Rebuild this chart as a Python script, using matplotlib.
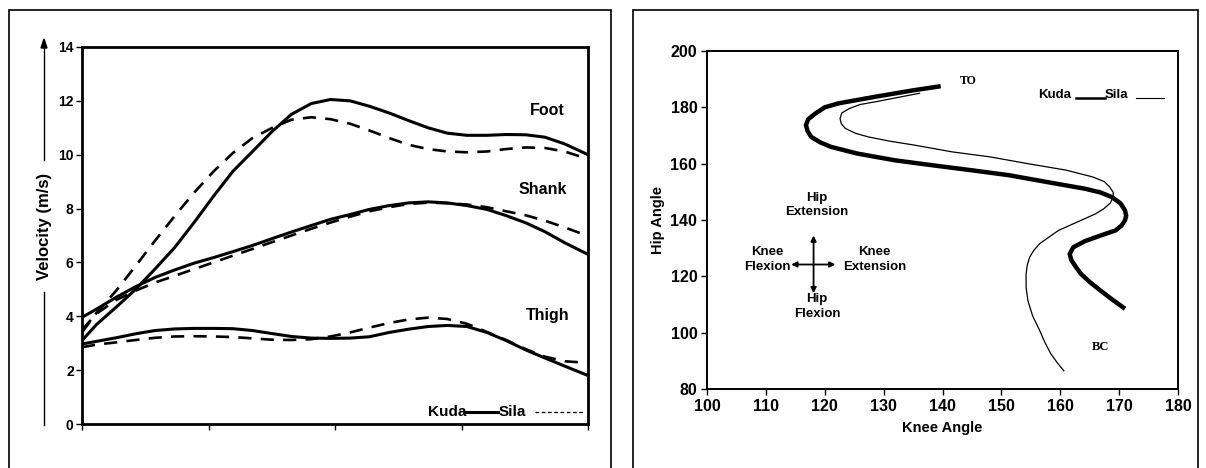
import matplotlib
matplotlib.use("Agg")
import matplotlib.pyplot as plt
from matplotlib.patches import Rectangle, Polygon
from matplotlib.lines import Line2D

# ---------------- Data: left panel (segment velocities, m/s) ----------------
time_pct = [0, 2.9, 6.7, 10.6, 14.4, 18.3, 22.1, 26.0, 29.8, 33.7, 37.5, 41.4, 45.3, 49.1,
            53.0, 56.8, 60.7, 64.5, 68.4, 72.2, 76.1, 80.0, 83.8, 87.7, 91.5, 95.4, 100]
foot_kuda = [3.1, 3.7, 4.33, 5.0, 5.75, 6.55, 7.47, 8.46, 9.38, 10.12, 10.85, 11.5, 11.9, 12.05,
             12.0, 11.8, 11.55, 11.27, 11.0, 10.8, 10.72, 10.72, 10.75, 10.74, 10.65, 10.4, 10.0]
foot_sila = [3.4, 4.14, 4.94, 5.87, 6.8, 7.72, 8.58, 9.38, 10.06, 10.62, 10.99, 11.3, 11.39, 11.32,
             11.15, 10.9, 10.62, 10.37, 10.21, 10.12, 10.09, 10.12, 10.21, 10.27, 10.25, 10.12, 9.84]
shank_kuda = [3.96, 4.27, 4.7, 5.1, 5.44, 5.72, 5.97, 6.18, 6.4, 6.63, 6.88, 7.13, 7.37, 7.6,
              7.78, 7.97, 8.11, 8.21, 8.25, 8.21, 8.11, 7.97, 7.74, 7.47, 7.14, 6.73, 6.3]
shank_sila = [3.5, 4.1, 4.6, 4.95, 5.25, 5.5, 5.75, 6.0, 6.25, 6.5, 6.75, 7.0, 7.25, 7.48,
              7.7, 7.9, 8.05, 8.17, 8.22, 8.2, 8.15, 8.05, 7.9, 7.75, 7.55, 7.3, 6.98]
thigh_kuda = [2.97, 3.07, 3.2, 3.35, 3.47, 3.53, 3.55, 3.55, 3.54, 3.47, 3.36, 3.25, 3.19, 3.18,
              3.19, 3.24, 3.4, 3.52, 3.62, 3.66, 3.62, 3.4, 3.1, 2.75, 2.45, 2.15, 1.8]
thigh_sila = [2.85, 2.95, 3.03, 3.12, 3.2, 3.25, 3.26, 3.25, 3.23, 3.18, 3.13, 3.12, 3.15, 3.25,
              3.4, 3.58, 3.75, 3.88, 3.95, 3.9, 3.72, 3.42, 3.12, 2.78, 2.5, 2.33, 2.27]

vel_yticks = [0, 2, 4, 6, 8, 10, 12, 14]
time_xticks = [0, 25, 50, 75, 100]

# ---------------- Data: right panel (hip vs knee angle) ----------------
kuda_knee = [139.7, 135.2, 128.7, 122.3, 120.0, 118.4, 117.2, 116.8, 117.1, 117.7, 119.2, 121.0,
             125.5, 131.9, 138.4, 144.8, 151.3, 157.7, 164.2, 166.8, 168.7, 170.2, 171.0, 171.2,
             171.0, 170.4, 169.4, 167.0, 164.2, 162.2, 161.6, 161.9, 162.6, 163.5, 165.0, 166.8,
             168.8, 171.0]
kuda_hip = [187.5, 186.1, 183.8, 181.4, 180.0, 177.8, 175.8, 173.7, 171.5, 169.5, 167.6, 166.0,
            163.6, 161.2, 159.4, 157.7, 155.9, 153.5, 151.1, 149.8, 148.2, 146.0, 143.4, 141.5,
            139.9, 138.0, 136.3, 134.6, 132.5, 130.3, 127.9, 125.7, 123.5, 120.9, 118.0, 115.0,
            111.8, 108.5]
sila_knee = [136.1, 128.7, 126.0, 124.2, 122.9, 122.6, 122.8, 123.5, 125.2, 127.4, 131.0, 135.2,
             141.6, 148.1, 154.5, 161.0, 165.5, 167.5, 168.4, 169.0, 169.0, 168.5, 167.4, 166.0,
             164.2, 159.7, 156.5, 155.5, 154.8, 154.4, 154.2, 154.2, 154.5, 155.3, 156.5, 157.4,
             158.4, 159.5, 160.6]
sila_hip = [185.0, 182.0, 181.0, 179.6, 178.0, 176.1, 174.2, 172.5, 170.8, 169.5, 168.0, 166.6,
            164.2, 162.4, 160.0, 157.7, 155.3, 153.6, 151.7, 149.8, 148.2, 146.0, 144.0, 142.2,
            140.5, 136.3, 131.6, 129.2, 126.8, 124.0, 120.9, 116.0, 111.4, 106.0, 100.8, 96.5,
            92.5, 89.3, 86.5]

knee_ticks = [100, 110, 120, 130, 140, 150, 160, 170, 180]
hip_ticks = [80, 100, 120, 140, 160, 180, 200]

FONT = ['Liberation Sans Narrow', 'Liberation Sans', 'DejaVu Sans']
SERIF = ['Liberation Serif', 'DejaVu Serif']
plt.rcParams['font.family'] = FONT
plt.rcParams['font.weight'] = 'bold'

W, H = 1206, 468
fig = plt.figure(figsize=(W / 100, H / 100), dpi=100)

def fx(px):
    return px / W

def fy(py):
    return 1 - py / H

# Panel borders
fig.add_artist(Rectangle((fx(9), fy(470)), fx(611 - 9), (470 - 10) / H,
                         transform=fig.transFigure, fill=False, lw=1.2, ec='black'))
fig.add_artist(Rectangle((fx(633), fy(470)), fx(1198 - 633), (470 - 10) / H,
                         transform=fig.transFigure, fill=False, lw=1.2, ec='black'))

# ---------------- Left axes ----------------
DASH = (0, (5, 3.5))
ax1 = fig.add_axes([fx(82), fy(424), fx(588 - 82), (424 - 47) / H])
ax1.plot(time_pct, foot_kuda, color='black', lw=2.2)
ax1.plot(time_pct, foot_sila, color='black', lw=1.9, ls=DASH)
ax1.plot(time_pct, shank_kuda, color='black', lw=2.2)
ax1.plot(time_pct, shank_sila, color='black', lw=1.9, ls=DASH)
ax1.plot(time_pct, thigh_kuda, color='black', lw=2.2)
ax1.plot(time_pct, thigh_sila, color='black', lw=1.9, ls=DASH)
ax1.set_xlim(0, 100)
ax1.set_ylim(0, 14)
ax1.set_yticks(vel_yticks)
ax1.set_xticks(time_xticks)
ax1.set_xticklabels([])
ax1.tick_params(axis='both', direction='out', length=4, width=1, pad=2)
for lab in ax1.get_yticklabels():
    lab.set_fontsize(10)
    lab.set_fontweight('bold')
for s in ax1.spines.values():
    s.set_linewidth(2.0)

ax1.text(92, 11.66, 'Foot', fontsize=11.5, fontweight='bold', ha='center', va='center')
ax1.text(91, 8.7, 'Shank', fontsize=11.5, fontweight='bold', ha='center', va='center')
ax1.text(92, 4.02, 'Thigh', fontsize=11.5, fontweight='bold', ha='center', va='center')

# left legend
ax1.text(68.3, 0.43, 'Kuda', fontsize=11, fontweight='bold', ha='left', va='center')
ax1.plot([75.8, 82.2], [0.45, 0.45], color='black', lw=2.2)
ax1.text(82.4, 0.43, 'Sila', fontsize=11, fontweight='bold', ha='left', va='center')
ax1.plot([89.5, 99.5], [0.45, 0.45], color='black', lw=0.9, ls=(0, (3, 2)))

# y label with arrow
fig.text(fx(44), fy(226), 'Velocity (m/s)', rotation=90, fontsize=12, fontweight='bold',
         ha='center', va='center')
fig.add_artist(Line2D([fx(44), fx(44)], [fy(425), fy(292)], transform=fig.transFigure,
                      color='black', lw=1.0))
fig.add_artist(Line2D([fx(44), fx(44)], [fy(160), fy(46)], transform=fig.transFigure,
                      color='black', lw=1.0))
fig.add_artist(Polygon([[fx(41), fy(48)], [fx(47), fy(48)], [fx(44), fy(39)]], closed=True,
                       transform=fig.transFigure, color='black'))

# ---------------- Right axes ----------------
ax2 = fig.add_axes([fx(707), fy(389), fx(1178 - 707), (389 - 51) / H])
ax2.plot(kuda_knee, kuda_hip, color='black', lw=3.2, solid_capstyle='butt', solid_joinstyle='round')
ax2.plot(sila_knee, sila_hip, color='black', lw=0.9)
ax2.set_xlim(100, 180)
ax2.set_ylim(80, 200)
ax2.set_xticks(knee_ticks)
ax2.set_yticks(hip_ticks)
ax2.tick_params(axis='both', direction='out', length=4, width=1, pad=3)
for lab in ax2.get_xticklabels() + ax2.get_yticklabels():
    lab.set_fontsize(11.5)
    lab.set_fontweight('bold')
for s in ax2.spines.values():
    s.set_linewidth(1.4)
ax2.set_xlabel('Knee Angle', fontsize=10.5, fontweight='bold', labelpad=5)
ax2.set_ylabel('Hip Angle', fontsize=10.5, fontweight='bold', labelpad=4)

ax2.text(144.3, 189.2, 'TO', fontsize=8.5, fontweight='bold', family=SERIF,
         ha='center', va='center')
ax2.text(166.8, 94.8, 'BC', fontsize=9, fontweight='bold', family=SERIF,
         ha='center', va='center')

# right legend
ax2.text(156.2, 184.3, 'Kuda', fontsize=9.5, fontweight='bold', ha='left', va='center')
ax2.plot([162.6, 167.6], [183.4, 183.4], color='black', lw=1.8)
ax2.text(167.6, 184.3, 'Sila', fontsize=9.5, fontweight='bold', ha='left', va='center')
ax2.plot([172.8, 177.6], [183.4, 183.4], color='black', lw=0.8)

# direction annotations
TXT = dict(fontsize=9.5, fontweight='bold', ha='center', va='center', linespacing=1.25)
ax2.text(118.7, 145.4, 'Hip\nExtension', **TXT)
ax2.text(110.2, 126.0, 'Knee\nFlexion', **TXT)
ax2.text(128.5, 126.0, 'Knee\nExtension', **TXT)
ax2.text(118.7, 109.3, 'Hip\nFlexion', **TXT)
ap = dict(arrowstyle='-|>', color='black', lw=1.3, mutation_scale=8, shrinkA=0, shrinkB=0)
cx, cy = 118.1, 124.2
ax2.annotate('', xy=(cx, 134.5), xytext=(cx, cy), arrowprops=ap)
ax2.annotate('', xy=(cx, 114.0), xytext=(cx, cy), arrowprops=ap)
ax2.annotate('', xy=(114.3, cy), xytext=(cx, cy), arrowprops=ap)
ax2.annotate('', xy=(121.8, cy), xytext=(cx, cy), arrowprops=ap)

fig.savefig('out.png', dpi=100)
